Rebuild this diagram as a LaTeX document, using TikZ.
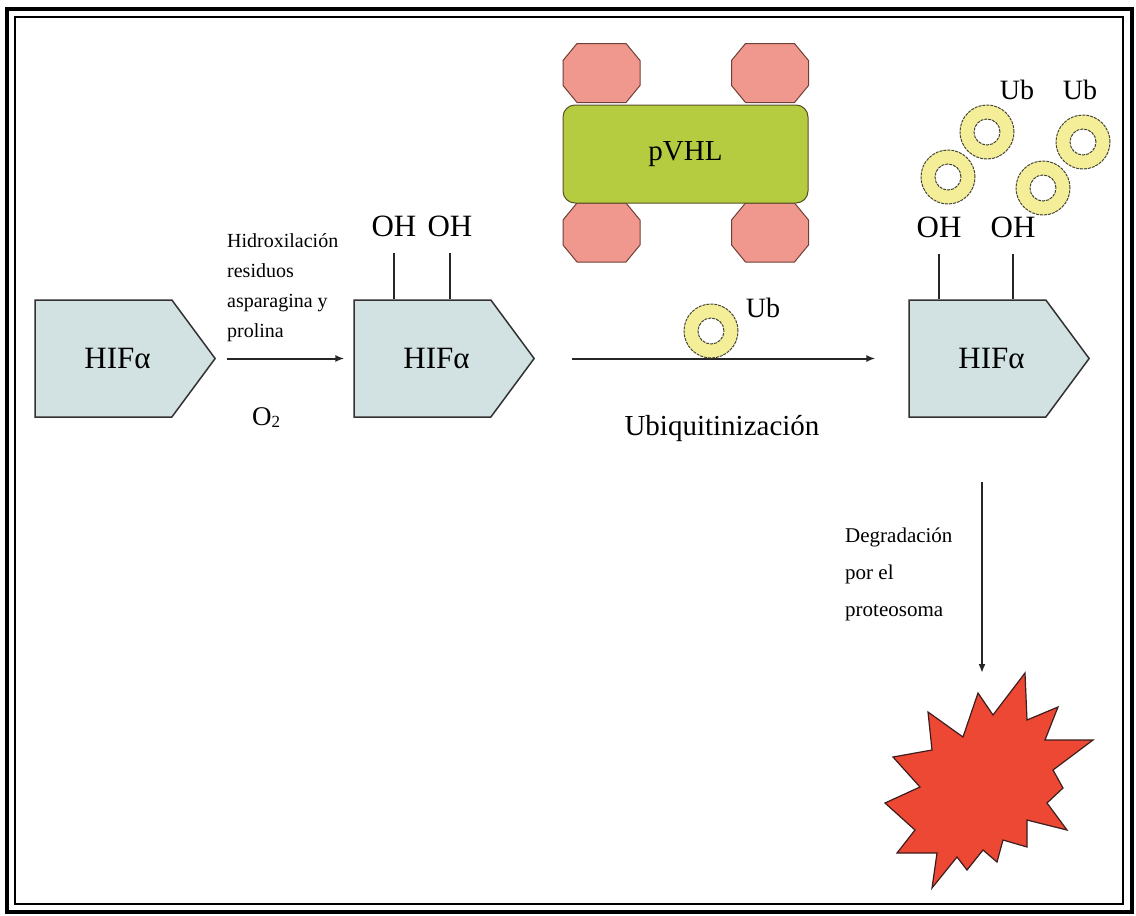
\documentclass[tikz,border=0pt]{standalone}
\usepackage{fontspec}
\setmainfont{Liberation Serif}
\usetikzlibrary{shapes.symbols,arrows.meta}
\definecolor{boxfill}{RGB}{210,226,226}
\definecolor{boxline}{RGB}{50,50,50}
\definecolor{vhlfill}{RGB}{181,204,64}
\definecolor{vhlline}{RGB}{90,80,40}
\definecolor{octfill}{RGB}{240,152,142}
\definecolor{octline}{RGB}{110,64,54}
\definecolor{ringfill}{RGB}{245,238,152}
\definecolor{ringline}{RGB}{70,70,55}
\definecolor{starfill}{RGB}{236,72,52}
\definecolor{starline}{RGB}{60,30,30}
\newcommand\fsz[1]{\fontsize{#1}{#1}\selectfont}
\begin{document}
\begin{tikzpicture}[x=1pt,y=-1pt,
  hif/.style={signal, signal to=east, signal pointer angle=107, draw=boxline, line width=1.5pt, fill=boxfill, minimum width=180pt, minimum height=117pt, inner sep=0pt, font=\fsz{31}},
  lab/.style={inner sep=0pt, font=\fsz{31}},
  conn/.style={line width=2pt, draw=black!85},
  arr/.style={conn, -{Latex[length=9pt,width=7pt]}},
  ringo/.style={circle, draw=ringline, line width=1pt, dash pattern=on 3pt off 1pt, fill=ringfill, minimum size=54pt, inner sep=0pt, path picture={\draw[ringline, line width=1pt, dash pattern=on 3pt off 1pt, fill=white] (path picture bounding box.center) circle (13pt);}},
  octo/.style={draw=octline, line width=1pt, fill=octfill},
  vhl/.style={draw=vhlline, line width=1pt, fill=vhlfill, rounded corners=12pt, minimum width=245pt, minimum height=98pt, inner sep=0pt, font=\fsz{29}},
  txt/.style={inner sep=0pt, align=left, anchor=north west}
]
\useasboundingbox (0,0) rectangle (1136,916);
\fill[white] (0,0) rectangle (1136,916);
% frame
\draw[line width=4pt] (7,9) rectangle (1132,912);
\draw[line width=2pt] (15,17) rectangle (1123,904);

% HIF boxes
\node[hif] (b1) at (103.5,358.5) {\hspace*{28pt}HIFα};
\node[hif] (b2) at (422.5,358.5) {\hspace*{28pt}HIFα};
\node[hif] (b3) at (977.5,358.5) {\hspace*{28pt}HIFα};

% OH groups
\node[lab] (oh1) at (394,226) {OH};
\node[lab] (oh2) at (450,226) {OH};
\node[lab] (oh3) at (939,227) {OH};
\node[lab] (oh4) at (1013,227) {OH};
\foreach \o/\b in {oh1/b2, oh2/b2, oh3/b3, oh4/b3}
  \draw[conn, line width=1.6pt] ([yshift=-16pt]\o.south) -- (\o.south |- \b.north);

% arrow 1 and labels
\draw[arr] ([xshift=11pt]b1.east) -- ([xshift=-9pt]b2.west);
\node[txt, font=\fsz{20}] (hx) at (227,233) {Hidroxilación\\[10pt]residuos\\[10pt]asparagina y\\[10pt]prolina};
\node[inner sep=0pt, font=\fsz{27}] (o2) at (266,418) {O\raisebox{-2pt}{\fsz{17}2}};

% pVHL complex
\foreach \cx/\cy in {601.5/73, 770/73, 601.5/232.5, 770/232.5}
  \path[octo] (\cx-38.5,\cy-12.5) -- (\cx-24.5,\cy-29.5) -- (\cx+24.5,\cy-29.5) -- (\cx+38.5,\cy-12.5)
     -- (\cx+38.5,\cy+12.5) -- (\cx+24.5,\cy+29.5) -- (\cx-24.5,\cy+29.5) -- (\cx-38.5,\cy+12.5) -- cycle;
\node[vhl] (vhl) at (685.5,154) {pVHL};

% arrow 2, ubiquitination
\draw[arr] ([xshift=37pt]b2.east) -- ([xshift=-33pt]b3.west);
\node[ringo] (u0) at (711,331) {};
\node[lab, font=\fsz{28}] (ub0) at (763,308) {Ub};
\node[inner sep=0pt, font=\fsz{29}] (ubq) at (722,428) {Ubiquitinización};

% ubiquitin chain on HIF
\node[ringo] (u1) at (948,177) {};
\node[ringo] (u2) at (987,132) {};
\node[ringo] (u3) at (1043,188) {};
\node[ringo] (u4) at (1083,142) {};
\node[lab, font=\fsz{28}] (ub1) at (1017,90) {Ub};
\node[lab, font=\fsz{28}] (ub2) at (1080,90) {Ub};

% degradation
\node[txt, font=\fsz{21}] (deg) at (845,528) {Degradación\\[16pt]por el\\[16pt]proteosoma};
\coordinate (d0) at (982,482);
\coordinate (d1) at (982,673);
\draw[arr] (d0) -- (d1);

% burst
\draw[fill=starfill, draw=starline, line width=1.2pt, line join=miter]
  (978,693) -- (993,715) -- (1025,673) -- (1027,720) -- (1058,707) -- (1045,740)
  -- (1093,740) -- (1053,770) -- (1063,788) -- (1047,803) -- (1067,830) -- (1027,820)
  -- (1027,847) -- (1003,840) -- (997,862) -- (983,850) -- (967,870) -- (957,857)
  -- (932,888) -- (937,853) -- (897,853) -- (915,830) -- (885,803) -- (920,787)
  -- (893,757) -- (932,750) -- (928,712) -- (963,737) -- cycle;
\end{tikzpicture}
\end{document}
